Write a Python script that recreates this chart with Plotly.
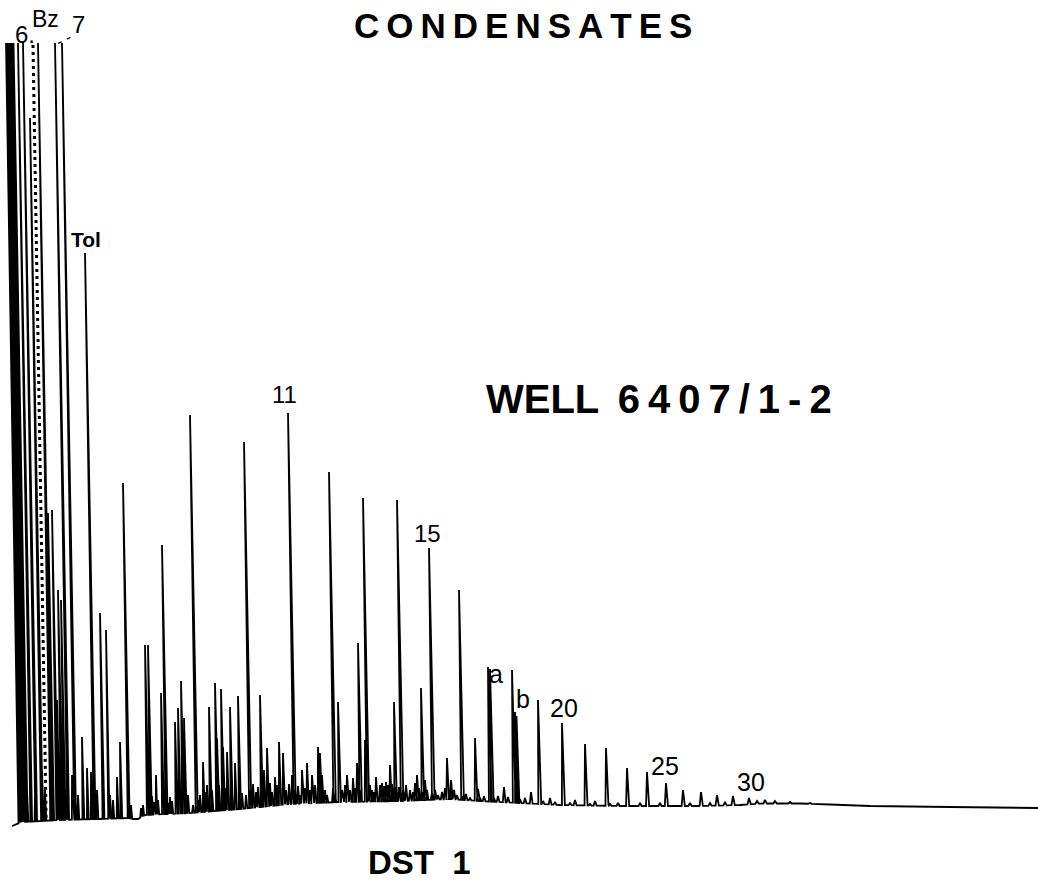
import numpy as np
import plotly.graph_objects as go

# ---------------- data ----------------
# baseline of the detector trace
base_rt = [12, 22, 60, 100, 128, 133, 138, 145, 190, 240, 290, 340, 400, 450,
           480, 520, 560, 620, 700, 740, 760, 800, 830, 870, 950, 1038]
base_sig = [65, 69, 71, 72, 73, 72, 72, 76, 78, 82, 87, 89, 90, 92,
            90, 88, 86, 85, 85, 86, 87.5, 87.5, 86.5, 85, 84, 83]

# resolved peaks: retention position and apex response (848 = off scale)
major_rt = [6, 7.5, 9, 10.5, 12, 13.5, 18, 23, 30, 38, 48, 52, 55, 57, 58, 60, 61, 62, 63,
            82, 85, 87, 91, 100, 106, 117, 120, 123, 128, 145, 148, 156, 161, 162,
            175, 178, 181, 184, 190, 203, 209, 215, 217, 221, 223, 227, 230, 235, 238,
            244, 260, 264, 267, 275, 279, 283, 288, 292, 302, 307, 312, 318, 320, 322,
            329, 338, 347, 353, 357, 358, 363, 365, 376, 390, 394, 397, 417, 421, 425,
            429, 447, 451, 459, 475, 478, 488, 490, 504, 512, 515, 516.5, 531, 538,
            562, 585, 606, 627, 647, 666, 683, 701, 717, 733, 749]
major_sig = [848, 848, 848, 848, 848, 848, 848, 848, 773, 848, 378, 381, 848, 191, 301, 186, 291, 848, 161,
             154, 638, 123, 119, 278, 261, 114, 149, 408, 104, 246, 246, 116, 198, 346,
             169, 183, 210, 173, 476, 129, 184, 208, 153, 202, 144, 139, 184, 128, 195,
             449, 196, 121, 143, 114, 149, 138, 478, 116, 121, 128, 116, 144, 138, 116,
             419, 189, 116, 113, 128, 248, 393, 151, 114, 126, 189, 391, 116, 203, 111,
             343, 133, 111, 301, 153, 102, 224, 222, 104, 221, 179, 175, 99, 191,
             168, 147, 143, 123, 119, 108, 101, 99, 96, 95, 93]

# unresolved "grass" of small peaks
minor_rt = [25, 27, 35, 42, 45, 50, 66, 72, 75, 78, 95, 97, 103, 110, 113, 131, 141, 143,
            150, 152, 154, 158, 166, 168, 170, 172, 186, 188, 193, 198, 200,
            205, 207, 212, 219, 225, 232, 240, 242, 246, 250, 253, 256, 258, 262, 270,
            272, 277, 286, 289, 295, 298, 300, 305, 310, 315, 325, 327, 333, 335, 342,
            345, 350, 355, 360, 370, 372, 374, 380, 382, 384, 386, 388, 392, 396, 399,
            403, 406, 410, 413, 415, 419, 423, 427, 432, 435, 438, 442, 445, 450, 454,
            457, 462, 466, 470, 480, 484, 494, 498, 508, 520, 525, 543, 550, 555, 570,
            575, 590, 595, 610, 618, 640, 660, 690, 710, 725, 757, 765, 775, 790, 810]
minor_sig = [131, 101, 96, 121, 101, 131, 101, 116, 106, 96, 96, 101, 91, 96, 91, 86, 83, 86,
             91, 95, 89, 91, 93, 88, 94, 90, 91, 96, 86, 91, 96,
             99, 106, 101, 106, 103, 101, 104, 98, 96, 101, 107, 99, 104, 101, 108,
             99, 106, 101, 107, 101, 105, 96, 103, 101, 106, 101, 96, 103, 96, 101,
             106, 101, 103, 101, 106, 101, 99, 106, 108, 105, 109, 106, 107, 104, 104,
             101, 106, 101, 99, 108, 103, 99, 101, 98, 101, 96, 99, 103, 98, 101,
             96, 95, 97, 93, 93, 95, 93, 95, 94, 92, 93, 90, 93, 89, 88,
             91, 87, 90, 87, 88, 88, 88, 88, 88, 89, 90, 91, 90, 89, 88]

# benzene peak (drawn dotted in the original)
bz_rt = [33]
bz_sig = [846]

# ---------------- build the pen trace ----------------
SLANT = 0.017  # pen-recorder lean per unit of peak height


def base_at(x):
    return float(np.interp(x, base_rt, base_sig))


events = []
for rt, sg in zip(major_rt + minor_rt, major_sig + minor_sig):
    b = base_at(rt)
    s = SLANT * (sg - b)
    w = 0.8 + 0.0012 * rt
    xc = rt + s
    events.append((xc, [(xc - w, base_at(xc - w)), (rt, sg), (xc + w, base_at(xc + w))]))
for bx, bs in zip(base_rt, base_sig):
    events.append((bx, [(bx, bs)]))
events.sort(key=lambda e: e[0])

tx, ty = [], []
for _, pts in events:
    for px, py in pts:
        tx.append(px)
        ty.append(py)

fig = go.Figure()
fig.add_trace(go.Scatter(x=tx, y=ty, mode="lines",
                         line=dict(color="black", width=1.8),
                         hoverinfo="skip", showlegend=False))

bx_, by_ = [], []
for rt, sg in zip(bz_rt, bz_sig):
    b = base_at(rt)
    bx_ += [rt, rt + SLANT * (sg - b)]
    by_ += [sg, b]
fig.add_trace(go.Scatter(x=bx_, y=by_, mode="lines",
                         line=dict(color="black", width=3, dash="3px,4px"),
                         hoverinfo="skip", showlegend=False))

# ---------------- text ----------------
FONT = "Liberation Sans, Arial, Helvetica, sans-serif"
thin = "\u2009"


def ann(text, x, y, size, bold=False, xanchor="center", angle=0):
    return dict(text=text, x=x, y=y, xref="x", yref="y", showarrow=False,
                xanchor=xanchor, yanchor="middle", textangle=angle,
                font=dict(family=FONT, size=size, color="black",
                          weight="bold" if bold else "normal"))


annotations = [
    ann(thin.join("CONDENSATES"), 523, 866, 35, bold=True),
    ann("WELL " + thin + thin.join("6407/1-2"), 484, 492, 40, bold=True, xanchor="left"),
    ann("DST  1", 419, 29, 33, bold=True),
    ann("11", 284, 497, 24),
    ann("15", 427, 358, 24),
    ann("a", 496, 217, 25),
    ann("b", 523, 192, 25),
    ann("20", 564, 183, 25),
    ann("25", 665, 125, 25),
    ann("30", 751, 109, 25),
    ann("Tol", 86, 652, 21, bold=True),
    ann("6.", 25, 857, 24),
    ann("Bz", 45, 872, 23),
    ann("7", 78, 867, 24),
    ann("- -", 63, 852, 16, angle=-25),
]

fig.update_layout(
    width=1038, height=891,
    margin=dict(l=0, r=0, t=0, b=0),
    paper_bgcolor="white", plot_bgcolor="white",
    xaxis=dict(range=[0, 1038], visible=False, fixedrange=True),
    yaxis=dict(range=[0, 891], visible=False, fixedrange=True),
    showlegend=False,
    annotations=annotations,
)

fig.write_html("out.html", config={"displayModeBar": False},
               post_script="document.body.style.margin='0';")
